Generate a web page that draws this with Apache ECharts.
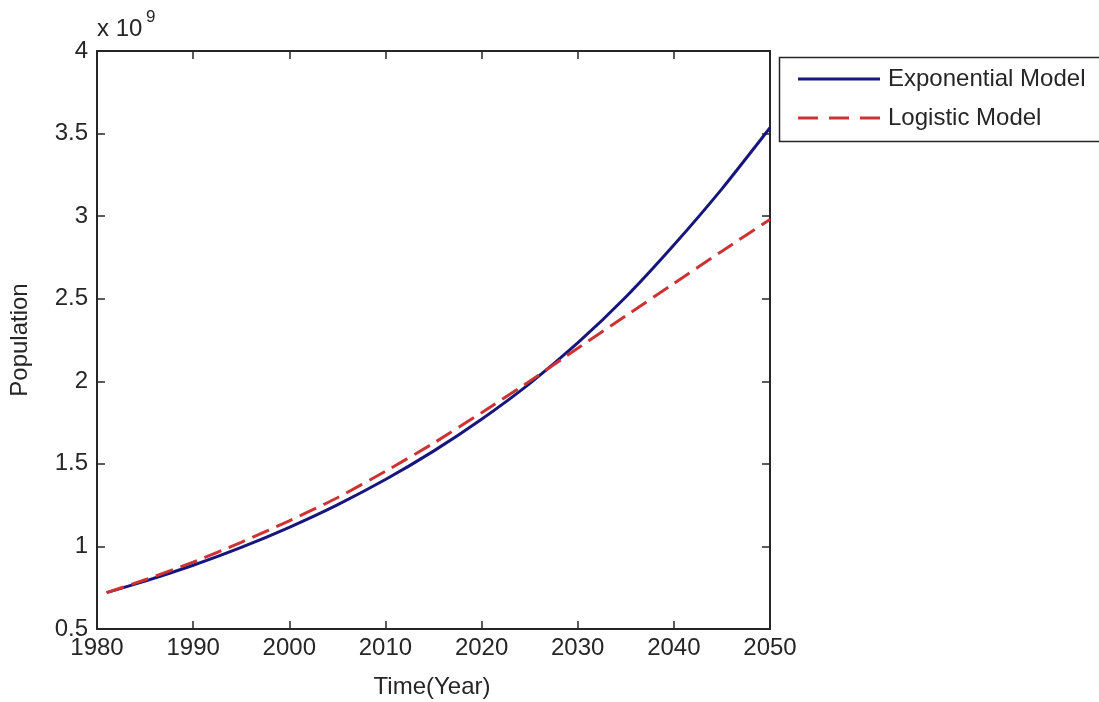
<!DOCTYPE html>
<html>
<head>
<meta charset="utf-8">
<script src="https://cdn.jsdelivr.net/npm/echarts@6/dist/echarts.min.js"></script>
<style>
html,body{margin:0;padding:0;background:#fff;}
#chart{width:1099px;height:702px;}
</style>
</head>
<body>
<div id="chart"></div>
<script>
// Data (population in units of 10^9)
const years = [1981, 1985, 1990, 1995, 2000, 2005, 2010, 2015, 2020, 2025, 2030, 2035, 2040, 2045, 2050];
const exponentialModel = [0.720, 0.790, 0.886, 0.994, 1.116, 1.252, 1.405, 1.577, 1.770, 1.986, 2.232, 2.510, 2.825, 3.165, 3.535];
const logisticModel   = [0.720, 0.798, 0.905, 1.025, 1.155, 1.295, 1.455, 1.625, 1.810, 2.000, 2.200, 2.396, 2.592, 2.788, 2.980];
const xTicks = [1980, 1990, 2000, 2010, 2020, 2030, 2040, 2050];
const yTicks = [0.5, 1, 1.5, 2, 2.5, 3, 3.5, 4];
const seriesNames = ['Exponential Model', 'Logistic Model'];

const FONT = '"Liberation Sans", Arial, Helvetica, sans-serif';
const TXT = '#262626';
const AX = '#262626';
const BLUE = '#16167c';
const RED = '#cc3333';

const chart = echarts.init(document.getElementById('chart'), null, {renderer: 'canvas'});

const axisCommonX = {
  type: 'value',
  min: xTicks[0], max: xTicks[xTicks.length - 1], interval: 10,
  axisLine: {show: true, onZero: false, lineStyle: {color: AX, width: 2}},
  axisTick: {show: true, inside: true, length: 8, lineStyle: {color: AX, width: 1.5}},
  splitLine: {show: false}
};
const axisCommonY = {
  type: 'value',
  min: yTicks[0], max: yTicks[yTicks.length - 1], interval: 0.5,
  axisLine: {show: true, onZero: false, lineStyle: {color: AX, width: 2}},
  axisTick: {show: true, inside: true, length: 8, lineStyle: {color: AX, width: 1.5}},
  splitLine: {show: false}
};

const option = {
  backgroundColor: '#ffffff',
  animation: false,
  grid: {left: 97, top: 51, right: 329, bottom: 73, containLabel: false},
  xAxis: [
    Object.assign({}, axisCommonX, {
      position: 'bottom',
      axisLabel: {show: true, margin: 7, color: TXT, fontSize: 24, fontFamily: FONT,
        formatter: v => String(v)}
    }),
    Object.assign({}, axisCommonX, {position: 'top', axisLabel: {show: false}})
  ],
  yAxis: [
    Object.assign({}, axisCommonY, {
      position: 'left',
      axisLabel: {show: true, margin: 9, color: TXT, fontSize: 24, fontFamily: FONT,
        formatter: v => String(v)}
    }),
    Object.assign({}, axisCommonY, {position: 'right', axisLabel: {show: false}})
  ],
  legend: {
    orient: 'vertical',
    left: 793, top: 62,
    itemWidth: 82, itemHeight: 3, itemGap: 15,
    selectedMode: false,
    textStyle: {color: TXT, fontSize: 24, fontFamily: FONT, padding: [0, 0, 0, 3]},
    data: [
      {name: seriesNames[0], icon: 'rect', itemStyle: {color: BLUE}},
      {name: seriesNames[1], icon: 'path://M0,0h20v3h-20z M31,0h20v3h-20z M62,0h20v3h-20z', itemStyle: {color: RED}}
    ]
  },
  graphic: [
    {type: 'rect', left: 777, top: 55, z: 10, silent: true,
      shape: {width: 340, height: 84},
      style: {fill: 'none', stroke: AX, lineWidth: 1.5}},
    {type: 'text', left: 97, top: 17, z: 10, silent: true,
      style: {text: 'x 10', fill: TXT, font: '24px ' + FONT}},
    {type: 'text', left: 146, top: 9, z: 10, silent: true,
      style: {text: '9', fill: TXT, font: '17px ' + FONT}},
    {type: 'text', x: 20, y: 340, rotation: Math.PI / 2, z: 10, silent: true,
      style: {text: 'Population', fill: TXT, font: '24px ' + FONT, align: 'center', verticalAlign: 'middle'}},
    {type: 'text', x: 432, y: 687, z: 10, silent: true,
      style: {text: 'Time(Year)', fill: TXT, font: '24px ' + FONT, align: 'center', verticalAlign: 'middle'}}
  ],
  series: [
    {
      name: seriesNames[0], type: 'line', xAxisIndex: 0, yAxisIndex: 0,
      data: years.map((y, i) => [y, exponentialModel[i]]),
      showSymbol: false, symbol: 'none', smooth: 0.2,
      lineStyle: {color: BLUE, width: 3},
      itemStyle: {color: BLUE}
    },
    {
      name: seriesNames[1], type: 'line', xAxisIndex: 0, yAxisIndex: 0,
      data: years.map((y, i) => [y, logisticModel[i]]),
      showSymbol: false, symbol: 'none', smooth: 0.2,
      lineStyle: {color: RED, width: 3, type: [18, 8]},
      itemStyle: {color: RED}
    }
  ]
};
chart.setOption(option);
</script>
</body>
</html>
